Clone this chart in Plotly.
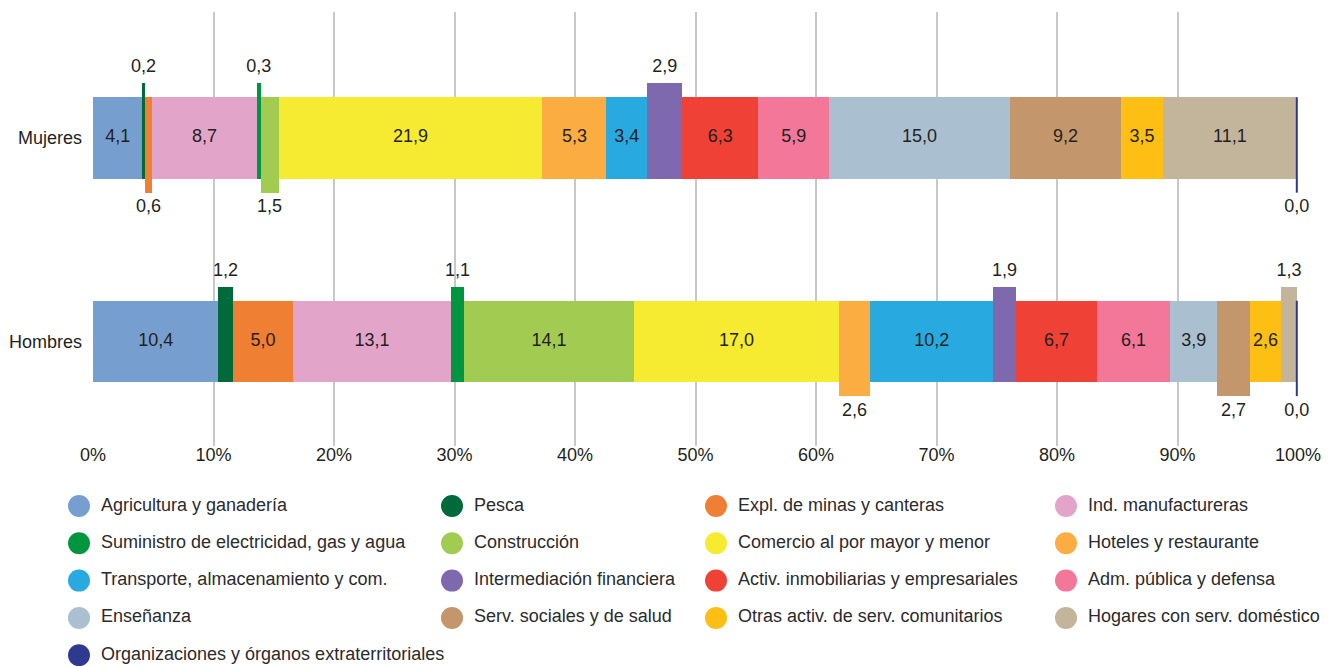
import plotly.graph_objects as go

# Employment structure by activity sector (% of employed), women vs men
sectors = [
    "Agricultura y ganadería",
    "Pesca",
    "Expl. de minas y canteras",
    "Ind. manufactureras",
    "Suministro de electricidad, gas y agua",
    "Construcción",
    "Comercio al por mayor y menor",
    "Hoteles y restaurante",
    "Transporte, almacenamiento y com.",
    "Intermediación financiera",
    "Activ. inmobiliarias y empresariales",
    "Adm. pública y defensa",
    "Enseñanza",
    "Serv. sociales y de salud",
    "Otras activ. de serv. comunitarios",
    "Hogares con serv. doméstico",
    "Organizaciones y órganos extraterritoriales",
]
mujeres = [4.1, 0.2, 0.6, 8.7, 0.3, 1.5, 21.9, 5.3, 3.4, 2.9, 6.3, 5.9, 15.0, 9.2, 3.5, 11.1, 0.0]
hombres = [10.4, 1.2, 5.0, 13.1, 1.1, 14.1, 17.0, 2.6, 10.2, 1.9, 6.7, 6.1, 3.9, 2.7, 2.6, 1.3, 0.0]
row_labels = ["Mujeres", "Hombres"]
x_ticks = [0, 10, 20, 30, 40, 50, 60, 70, 80, 90, 100]

colors = [
    "#769fcf", "#006a3a", "#ee7f33", "#e2a5c9", "#00963f", "#a2cb52",
    "#f6eb31", "#fbad41", "#28aae1", "#7f69ae", "#ef4136", "#f27799",
    "#aac0d0", "#c3976b", "#fdbf14", "#c3b59c", "#2e3a8f",
]

# Narrow segments are lifted (+1) or dropped (-1) with their label outside
lift_m = [0, 1, -1, 0, 1, -1, 0, 0, 0, 1, 0, 0, 0, 0, 0, 0, -1]
lift_h = [0, 1, 0, 0, 1, 0, 0, -1, 0, 1, 0, 0, 0, -1, 0, 1, -1]

W, H = 1343, 666
PX0, PX1 = 93, 1298          # plot area, horizontal pixels
PY0, PY1 = 12, 446           # plot area, vertical pixels
Y_RANGE = [-0.514, 1.619]
ROW_Y = [1, 0]               # Mujeres on top
BW = 0.40                    # bar thickness (y units)
EXT = 0.069                  # extra thickness for lifted/dropped segments
LBL = 0.344                  # distance of outside labels from row centre

FONT = "Liberation Sans, Arial, sans-serif"
TXT = "#231f20"
FS = 18


def fmt(v):
    return f"{v:.1f}".replace(".", ",")


def cumulative(vals):
    out, s = [], 0.0
    for v in vals:
        out.append(s)
        s += v
    return out


base_m = cumulative(mujeres)
base_h = cumulative(hombres)

fig = go.Figure()

lbl_x, lbl_y, lbl_t = [], [], []
for i, name in enumerate(sectors):
    widths, offsets = [], []
    for lift in (lift_m[i], lift_h[i]):
        if lift == 0:
            widths.append(BW)
            offsets.append(-BW / 2)
        elif lift > 0:
            widths.append(BW + EXT)
            offsets.append(-BW / 2)
        else:
            widths.append(BW + EXT)
            offsets.append(-BW / 2 - EXT)
    fig.add_trace(go.Bar(
        orientation="h",
        y=ROW_Y,
        x=[mujeres[i], hombres[i]],
        base=[base_m[i], base_h[i]],
        width=widths,
        offset=offsets,
        marker=dict(color=colors[i], line=dict(width=0)),
        name=name,
        showlegend=False,
        hovertemplate=name + ": %{x:.1f}%<extra></extra>",
    ))
    for ry, vals, bases, lifts in ((ROW_Y[0], mujeres, base_m, lift_m),
                                   (ROW_Y[1], hombres, base_h, lift_h)):
        v, b, lift = vals[i], bases[i], lifts[i]
        # zero-width segments are drawn as a hairline at their position
        if v == 0:
            lo = ry - BW / 2 - (EXT if lift < 0 else 0)
            hi = ry + BW / 2 + (EXT if lift > 0 else 0)
            fig.add_trace(go.Scatter(
                x=[b, b], y=[lo, hi], mode="lines",
                line=dict(color=colors[i], width=2),
                showlegend=False, hoverinfo="skip",
            ))
        lbl_x.append(b + v / 2)
        lbl_y.append(ry + lift * LBL)
        lbl_t.append(fmt(v))

fig.add_trace(go.Scatter(
    x=lbl_x, y=lbl_y, text=lbl_t, mode="text",
    textposition="middle center",
    textfont=dict(family=FONT, size=FS, color=TXT),
    showlegend=False, hoverinfo="skip", cliponaxis=False,
))

# Legend: four columns of coloured dots, drawn on a pixel-scaled axis pair
col_x = [79, 452, 716, 1066]
row0, row_step = 506, 37.3
leg_x = [col_x[i % 4] for i in range(len(sectors))]
leg_y = [row0 + (i // 4) * row_step for i in range(len(sectors))]
fig.add_trace(go.Scatter(
    x=leg_x, y=leg_y, mode="markers",
    marker=dict(size=22, color=colors, line=dict(width=0)),
    xaxis="x2", yaxis="y2", showlegend=False, hoverinfo="skip",
    cliponaxis=False,
))
fig.add_trace(go.Scatter(
    x=[x + 22 for x in leg_x], y=leg_y, text=sectors, mode="text",
    textposition="middle right",
    textfont=dict(family=FONT, size=FS, color="#2b2b2b"),
    xaxis="x2", yaxis="y2", showlegend=False, hoverinfo="skip",
    cliponaxis=False,
))

LEG_TOP = 470
fig.update_layout(
    width=W, height=H,
    margin=dict(l=0, r=0, t=0, b=0, autoexpand=False),
    paper_bgcolor="white", plot_bgcolor="rgba(0,0,0,0)",
    barmode="overlay",
    bargap=0,
    showlegend=False,
    font=dict(family=FONT, size=FS, color=TXT),
    xaxis=dict(
        domain=[PX0 / W, PX1 / W],
        range=[0, 100],
        tickvals=x_ticks,
        ticktext=[f"{t}%" for t in x_ticks],
        showgrid=True, gridcolor="#c8c8c8", gridwidth=1.5,
        zeroline=False, showline=False, ticks="",
        ticklabelstandoff=-4,
        tickfont=dict(family=FONT, size=FS, color=TXT),
        automargin=False, fixedrange=True,
    ),
    yaxis=dict(
        domain=[1 - PY1 / H, 1 - PY0 / H],
        range=Y_RANGE,
        tickvals=ROW_Y,
        ticktext=row_labels,
        showgrid=False, zeroline=False, showline=False, ticks="",
        ticklabelstandoff=10,
        tickfont=dict(family=FONT, size=FS, color=TXT),
        automargin=False, fixedrange=True,
    ),
    xaxis2=dict(
        domain=[0, 1], range=[0, W], anchor="y2",
        visible=False, fixedrange=True, automargin=False,
    ),
    yaxis2=dict(
        domain=[0, (H - LEG_TOP) / H], range=[H, LEG_TOP], anchor="x2",
        visible=False, fixedrange=True, automargin=False,
    ),
)

fig.write_html("out.html")
